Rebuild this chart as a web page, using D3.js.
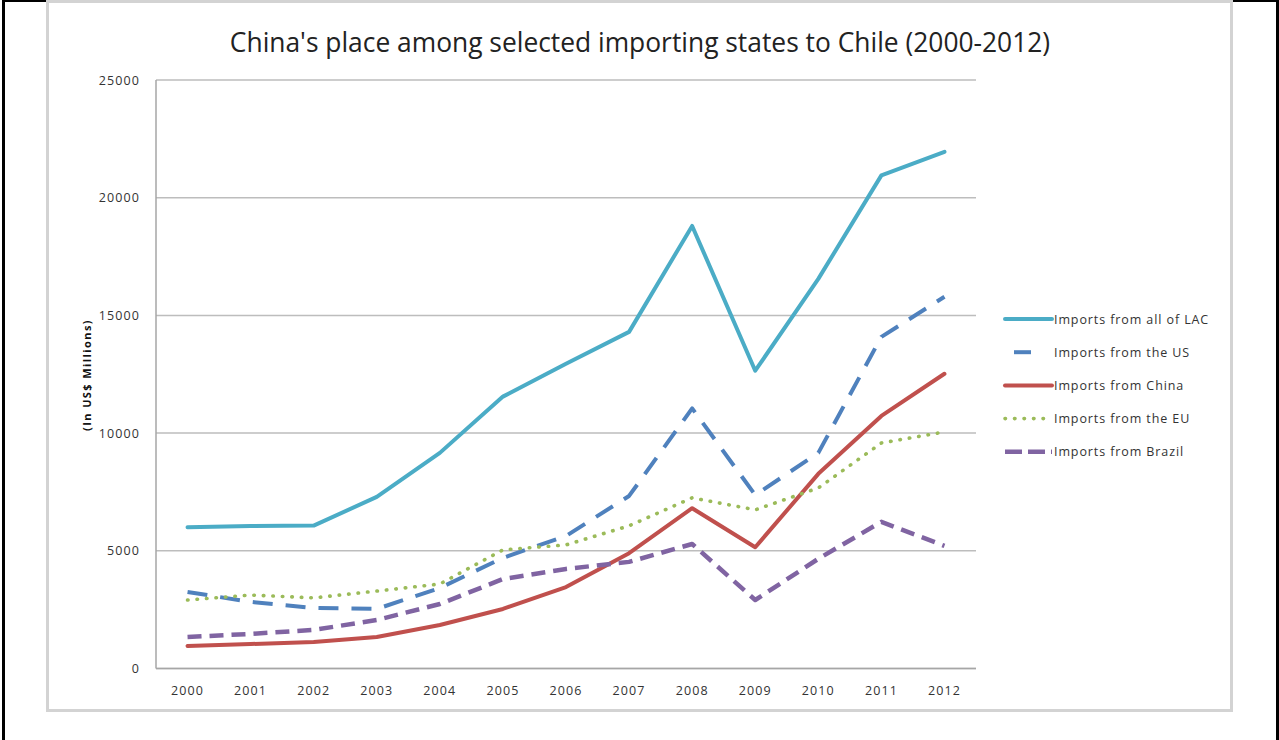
<!DOCTYPE html>
<html>
<head>
<meta charset="utf-8">
<script src="https://cdn.jsdelivr.net/npm/d3@7"></script>
<style>
  html, body { margin: 0; padding: 0; background: #fff; }
  svg { display: block; }
  text { font-family: "Open Sans", "Noto Sans", sans-serif; }
</style>
</head>
<body>
<svg id="chart" width="1279" height="740"></svg>
<script>
// Chile's imports by origin, US$ millions
const years = ["2000","2001","2002","2003","2004","2005","2006","2007","2008","2009","2010","2011","2012"];
const importsLAC    = [6000, 6050, 6070, 7290, 9160, 11550, 12950, 14300, 18800, 12650, 16550, 20950, 21950];
const importsUS     = [3250, 2830, 2570, 2530, 3420, 4700, 5630, 7330, 11050, 7370, 9160, 14090, 15790];
const importsChina  = [960, 1040, 1130, 1340, 1850, 2530, 3460, 4900, 6810, 5150, 8270, 10730, 12520];
const importsEU     = [2910, 3120, 3000, 3290, 3590, 5040, 5250, 6060, 7250, 6740, 7670, 9580, 10050];
const importsBrazil = [1340, 1470, 1640, 2060, 2740, 3800, 4230, 4530, 5290, 2910, 4660, 6230, 5210];
const seriesNames = ["Imports from all of LAC", "Imports from the US", "Imports from China", "Imports from the EU", "Imports from Brazil"];
const yTicks = [0, 5000, 10000, 15000, 20000, 25000];
const titleText = "China's place among selected importing states to Chile (2000-2012)";
const yLabel = "(In US$ Millions)";

const series = [
  { name: seriesNames[0], values: importsLAC,    color: "#4BACC6", width: 4,   dash: null,    cap: "round" },
  { name: seriesNames[1], values: importsUS,     color: "#4F81BD", width: 4,   dash: "20,13", cap: "butt" },
  { name: seriesNames[2], values: importsChina,  color: "#C0504D", width: 4,   dash: null,    cap: "round" },
  { name: seriesNames[3], values: importsEU,     color: "#9BBB59", width: 3.6, dash: "0.5,9", cap: "round" },
  { name: seriesNames[4], values: importsBrazil, color: "#8064A2", width: 4.5, dash: "14,8",  cap: "butt" }
];

const svg = d3.select("#chart");

// page frame
svg.append("rect").attr("x", 2).attr("y", 0).attr("width", 3).attr("height", 740).attr("fill", "#000");
svg.append("rect").attr("x", 2).attr("y", 0).attr("width", 1277).attr("height", 2).attr("fill", "#000");
svg.append("rect").attr("x", 1276).attr("y", 0).attr("width", 3).attr("height", 740).attr("fill", "#000");

// chart box
svg.append("rect").attr("x", 47.5).attr("y", 1.5).attr("width", 1184).attr("height", 709)
  .attr("fill", "#fff").attr("stroke", "#d3d3d3").attr("stroke-width", 3);

const plot = { left: 156, right: 976, top: 80, bottom: 668.5 };

const x = d3.scaleBand().domain(years).range([plot.left, plot.right]);
const y = d3.scaleLinear().domain([0, 25000]).range([plot.bottom, plot.top]);
const xc = d => x(d) + x.bandwidth() / 2;

// gridlines
svg.append("g").selectAll("line").data(yTicks).join("line")
  .attr("x1", plot.left).attr("x2", plot.right)
  .attr("y1", d => y(d)).attr("y2", d => y(d))
  .attr("stroke", "#bdbdbd").attr("stroke-width", 1.5);

// axis lines
svg.append("line").attr("x1", plot.left).attr("x2", plot.left)
  .attr("y1", plot.top).attr("y2", plot.bottom)
  .attr("stroke", "#a6a6a6").attr("stroke-width", 1.5);
svg.append("line").attr("x1", plot.left).attr("x2", plot.right)
  .attr("y1", plot.bottom).attr("y2", plot.bottom)
  .attr("stroke", "#a6a6a6").attr("stroke-width", 1.5);

// y tick labels
const yAxis = d3.axisLeft(y).tickValues(yTicks).tickSize(0).tickPadding(16).tickFormat(d3.format("d"));
const gy = svg.append("g").attr("transform", `translate(${plot.left},0)`).call(yAxis);
gy.select(".domain").remove();
gy.selectAll("text").attr("font-size", 12.5).attr("letter-spacing", 1.1).attr("fill", "#333")
  .style("font-family", '"Open Sans", sans-serif');

// x tick labels
const xAxis = d3.axisBottom(x).tickSize(0).tickPadding(18);
const gx = svg.append("g").attr("transform", `translate(0,${plot.bottom})`).call(xAxis);
gx.select(".domain").remove();
gx.selectAll("text").attr("font-size", 12.5).attr("letter-spacing", 1.1).attr("fill", "#333")
  .style("font-family", '"Open Sans", sans-serif');

// series lines
const line = d3.line().x((d, i) => xc(years[i])).y(d => y(d));
svg.append("g").selectAll("path").data(series).join("path")
  .attr("d", s => line(s.values))
  .attr("fill", "none")
  .attr("stroke", s => s.color)
  .attr("stroke-width", s => s.width)
  .attr("stroke-linejoin", "round")
  .attr("stroke-linecap", s => s.cap)
  .attr("stroke-dasharray", s => s.dash);

// title
const title = svg.append("text").attr("x", 640).attr("y", 52)
  .attr("text-anchor", "middle").attr("font-size", 22).attr("fill", "#222")
  .text(titleText);
const tw = title.node().getComputedTextLength();
title.attr("font-size", 22 * 821 / tw);

// y axis label
svg.append("text")
  .attr("transform", "translate(91,375) rotate(-90)")
  .attr("text-anchor", "middle").attr("font-size", 11).attr("font-weight", "bold")
  .attr("letter-spacing", 1.4).attr("fill", "#111").text(yLabel);

// legend
const legend = svg.append("g").selectAll("g").data(series).join("g")
  .attr("transform", (d, i) => `translate(1005,${319 + i * 33.2})`);
legend.append("line")
  .attr("x1", (d, i) => i === 1 ? 9 : 0).attr("x2", (d, i) => i === 1 ? 26 : 47)
  .attr("y1", 0).attr("y2", 0)
  .attr("stroke", d => d.color).attr("stroke-width", d => d.width)
  .attr("stroke-linecap", d => d.cap)
  .attr("stroke-dasharray", (d, i) => i === 3 ? "0.5,9" : (i === 4 ? "17,6" : null));
legend.append("text").attr("x", 49).attr("y", 4.5).attr("font-size", 12.5)
  .attr("letter-spacing", 0.9).attr("fill", "#333")
  .text(d => d.name);
</script>
</body>
</html>
